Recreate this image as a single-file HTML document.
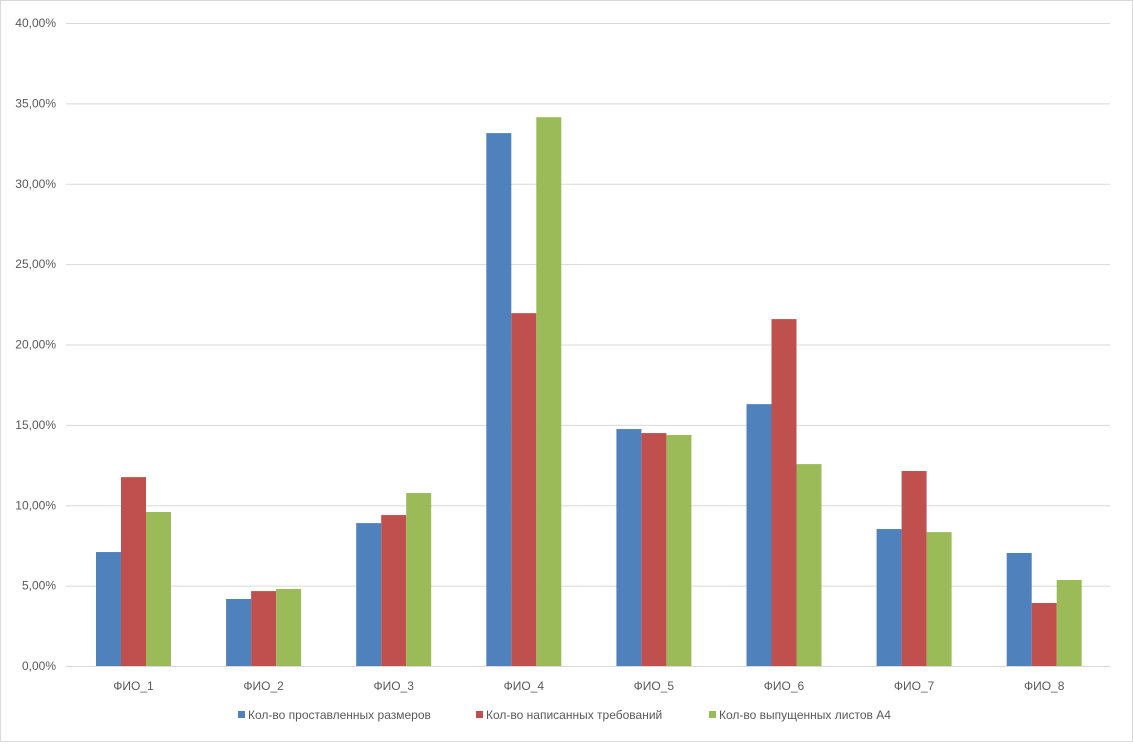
<!DOCTYPE html>
<html><head><meta charset="utf-8"><style>
body{margin:0;background:#fff;font-family:"Liberation Sans",sans-serif;}
svg text{font-family:"Liberation Sans",sans-serif;font-size:12px;fill:#595959;}
</style></head><body>
<svg id="chart" width="1133" height="742" xmlns="http://www.w3.org/2000/svg">
<rect x="0.5" y="0.5" width="1132" height="741" fill="#fff" stroke="#d9d9d9"/>
<g id="grid"></g><g id="bars"></g><g id="labels"></g><g id="legend"></g>
</svg>
<script>
const categories=["ФИО_1","ФИО_2","ФИО_3","ФИО_4","ФИО_5","ФИО_6","ФИО_7","ФИО_8"];
const seriesNames=["Кол-во проставленных размеров","Кол-во написанных требований","Кол-во выпущенных листов А4"];
const sizes=[7.09,4.17,8.89,33.15,14.74,16.29,8.52,7.03];
const requirements=[11.75,4.66,9.39,21.95,14.49,21.58,12.13,3.92];
const sheets=[9.58,4.79,10.76,34.14,14.37,12.56,8.33,5.35];
const ticks=[0,5,10,15,20,25,30,35,40];
const tickLabels=["0,00%","5,00%","10,00%","15,00%","20,00%","25,00%","30,00%","35,00%","40,00%"];
const colors=["#4f81bd","#c0504d","#9bbb59"];
const NS="http://www.w3.org/2000/svg";
const x0=68.45,x1=1109.25,yB=666,yT=23,yMax=40;
const y=v=>yB-(v/yMax)*(yB-yT);
const bandW=(x1-x0)/categories.length;
const cx=i=>x0+bandW*(i+0.5);
const barW=25;
function mk(tag,attrs,parent){const e=document.createElementNS(NS,tag);for(const k in attrs)e.setAttribute(k,attrs[k]);document.getElementById(parent).appendChild(e);return e;}
ticks.forEach((t,i)=>{
 const l=mk("line",{x1:66,x2:1110,y1:y(t)+0.5,y2:y(t)+0.5,stroke:"#d9d9d9"},"grid");
 
 
 const tx=mk("text",{x:56,y:y(t)+4,"text-anchor":"end"},"labels");tx.textContent=tickLabels[i];
 
 
});
const series=[sizes,requirements,sheets];
categories.forEach((c,i)=>{
 series.forEach((s,j)=>{
  const r=mk("rect",{x:cx(i)-37.5+j*barW,y:y(s[i]),width:barW,height:yB-y(s[i]),fill:colors[j]},"bars");
  
  
 });
 const t=mk("text",{x:cx(i),y:690,"text-anchor":"middle"},"labels");t.textContent=c;
 
 
});
const lx=[238,476,709];
seriesNames.forEach((n,j)=>{
 const r=mk("rect",{x:lx[j],y:711,width:7,height:7,fill:colors[j]},"legend");
 
 
 const t=mk("text",{x:lx[j]+10,y:719},"legend");t.textContent=n;
 
 
});
</script>
</body></html>
